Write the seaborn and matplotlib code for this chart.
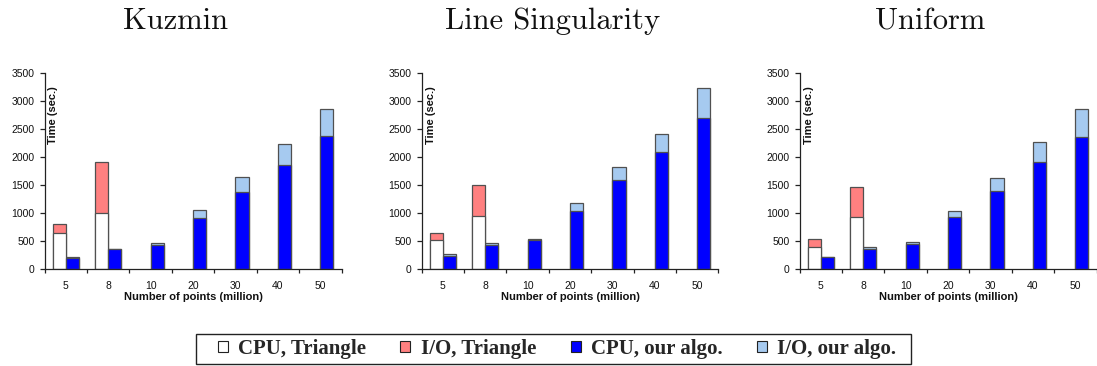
import matplotlib
matplotlib.use("Agg")
import matplotlib.pyplot as plt
import seaborn as sns
import pandas as pd
from matplotlib.patches import Patch, Rectangle

# ---------------- data ----------------
sizes = ["5", "8", "10", "20", "30", "40", "50"]
panels = ["Kuzmin", "Line Singularity", "Uniform"]

# Triangle (only measured for 5 and 8 million points)
tri_sizes = ["5", "8"]
kuzmin_tri_cpu = [643, 1000]
kuzmin_tri_io = [161, 923]
line_tri_cpu = [524, 952]
line_tri_io = [119, 548]
uniform_tri_cpu = [405, 929]
uniform_tri_io = [131, 535]

# our algorithm
kuzmin_our_cpu = [210, 355, 435, 911, 1387, 1863, 2375]
kuzmin_our_io = [18, 10, 41, 154, 268, 381, 494]
line_our_cpu = [245, 435, 518, 1042, 1595, 2089, 2696]
line_our_io = [22, 41, 30, 137, 226, 328, 536]
uniform_our_cpu = [212, 357, 452, 935, 1405, 1917, 2357]
uniform_our_io = [14, 36, 42, 113, 232, 351, 500]

legend_labels = ["CPU, Triangle", "I/O, Triangle", "CPU, our algo.", "I/O, our algo."]

tri_cpu = [kuzmin_tri_cpu, line_tri_cpu, uniform_tri_cpu]
tri_io = [kuzmin_tri_io, line_tri_io, uniform_tri_io]
our_cpu = [kuzmin_our_cpu, line_our_cpu, uniform_our_cpu]
our_io = [kuzmin_our_io, line_our_io, uniform_our_io]

# ---------------- style ----------------
sns.set_theme(style="white")
plt.rcParams["font.family"] = ["Liberation Sans", "DejaVu Sans"]

C_WHITE = "#FFFFFF"
C_SALMON = "#FF8080"
C_BLUE = "#0000FF"
C_LIGHT = "#A6CAF0"
EDGE = "#505050"

W, H = 1097, 366
fig = plt.figure(figsize=(W / 100, H / 100), dpi=100)

axes_left_px = [44.5, 421.5, 799.5]
ax_w_px = 297.0
ax_bottom_px = 269.3
ax_h_px = 196.0

for k, name in enumerate(panels):
    lx = axes_left_px[k]
    ax = fig.add_axes([lx / W, (H - ax_bottom_px) / H, ax_w_px / W, ax_h_px / H])

    rows = []
    for s, c, io in zip(tri_sizes, tri_cpu[k], tri_io[k]):
        rows.append({"size": s, "method": "Triangle", "cpu": c, "total": c + io})
    for s, c, io in zip(sizes, our_cpu[k], our_io[k]):
        rows.append({"size": s, "method": "ours", "cpu": c, "total": c + io})
    df = pd.DataFrame(rows)

    common = dict(data=df, x="size", hue="method", order=sizes,
                  hue_order=["Triangle", "ours"], dodge=True, width=0.62,
                  errorbar=None, legend=False, ax=ax, saturation=1,
                  edgecolor=EDGE, linewidth=0.9)
    sns.barplot(y="total", palette={"Triangle": C_SALMON, "ours": C_LIGHT}, **common)
    sns.barplot(y="cpu", palette={"Triangle": C_WHITE, "ours": C_BLUE}, **common)

    ax.set_xlim(-0.5, len(sizes) - 0.5)
    ax.set_ylim(0, 3500)
    ax.set_yticks(range(0, 3501, 500))
    ax.set_yticklabels([str(v) for v in range(0, 3501, 500)])
    ax.set_xticks(range(len(sizes)))
    ax.set_xticklabels(sizes)
    ax.set_xticks([i - 0.5 for i in range(len(sizes) + 1)], minor=True)
    ax.tick_params(axis="x", which="major", length=0, pad=8.5, labelsize=7.5, colors="#111111")
    ax.tick_params(axis="x", which="minor", length=3.2, width=0.9, color="#222222", direction="out", bottom=True)
    ax.tick_params(axis="y", which="major", length=3.6, width=0.9, color="#222222", direction="out",
                   pad=3.6, labelsize=7.5, left=True, labelcolor="#111111")
    for sp in ["top", "right"]:
        ax.spines[sp].set_visible(False)
    for sp in ["left", "bottom"]:
        ax.spines[sp].set_color("#222222")
        ax.spines[sp].set_linewidth(0.9)
    ax.set_xlabel("Number of points (million)", fontsize=8, fontweight="bold", labelpad=0.5, color="#111111")
    ax.set_ylabel("")
    ax.text(9.0 / ax_w_px, 0.787, "Time (sec.)", transform=ax.transAxes, rotation=90,
            ha="center", va="center", fontsize=8, fontweight="bold", color="#111111")

    fig.text((lx + 131) / W, 1 - 29 / H, name, ha="center", va="baseline",
             fontsize=22, family="cmr10", color="#111111")

handles = [Patch(facecolor=c, edgecolor="#222222", linewidth=0.8)
           for c in [C_WHITE, C_SALMON, C_BLUE, C_LIGHT]]
leg = fig.legend(handles, legend_labels, loc="center", bbox_to_anchor=(557 / W, 1 - 349 / H),
                 ncol=4, frameon=False,
                 prop={"family": ["Liberation Serif", "DejaVu Serif"], "weight": "bold", "size": 15},
                 handlelength=0.48, handleheight=0.48, handletextpad=0.5, columnspacing=1.65,
                 borderpad=0.1, borderaxespad=0)
fig.patches.append(Rectangle((196 / W, 1 - 364 / H), (911 - 196) / W, 30 / H,
                             transform=fig.transFigure, fill=False,
                             edgecolor="#222222", linewidth=1.0))

fig.savefig("out.png", dpi=100)
